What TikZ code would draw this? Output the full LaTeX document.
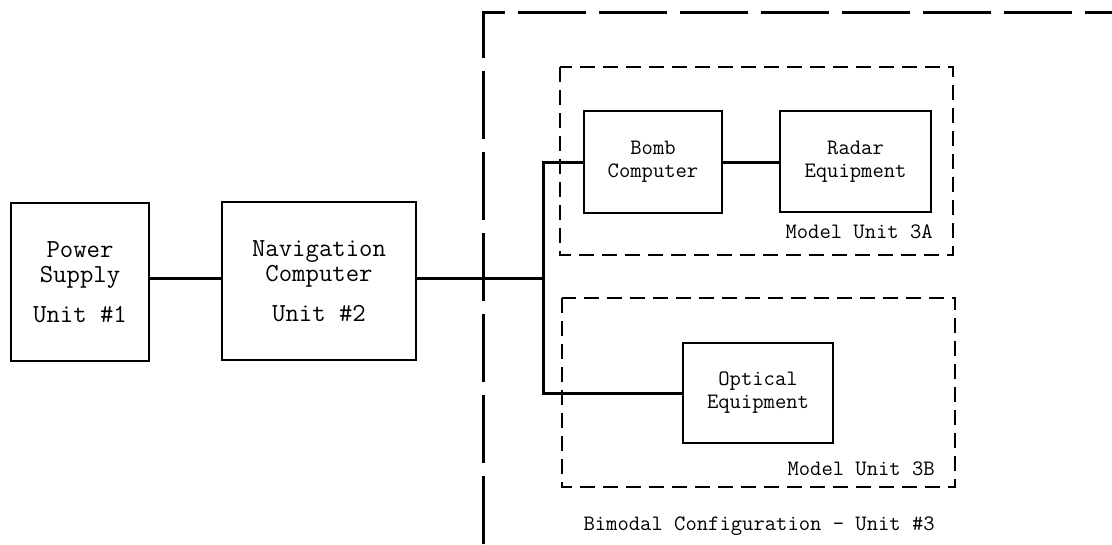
\documentclass[tikz,border=0pt]{standalone}
\usepackage{fontspec}
\begin{document}
\begin{tikzpicture}[x=1pt,y=-1pt,
  bigtext/.style={font=\ttfamily\fontsize{26}{25}\selectfont},
  smalltext/.style={font=\ttfamily\fontsize{22}{23}\selectfont},
  unitbox/.style={draw, line width=2pt, inner sep=0pt, align=center},
  wire/.style={line width=3pt},
  groupbox/.style={draw, line width=2.6pt, dash pattern=on 15pt off 8pt},
  outerline/.style={line width=3pt, dash pattern=on 68pt off 13pt}
]
\useasboundingbox (0,0) rectangle (1112,544);
% outer bimodal frame (open to right and bottom)
\coordinate (oTR) at (1112,12);
\coordinate (oTL) at (483,12);
\coordinate (oBL) at (483,544);
\draw[outerline] (oBL) -- (oTL) -- (oTR);
% group boxes
\draw[groupbox] (560,67) rectangle (953,255);
\draw[groupbox] (562,298) rectangle (955,487);
% unit boxes
\node[unitbox, bigtext, minimum width=138pt, minimum height=158pt] (ps) at (80,282)
  {Power\\ Supply\\[15pt]Unit \#1};
\node[unitbox, bigtext, minimum width=194pt, minimum height=158pt] (nav) at (319,281)
  {Navigation\\Computer\\[15pt]Unit \#2};
\node[unitbox, smalltext, minimum width=138pt, minimum height=102pt] (bomb) at (653,162)
  {Bomb\\Computer};
\node[unitbox, smalltext, minimum width=151pt, minimum height=101pt] (radar) at (855.5,161.5)
  {Radar\\Equipment};
\node[unitbox, smalltext, minimum width=150pt, minimum height=100pt] (opt) at (758,393)
  {Optical\\Equipment};
% labels
\node[smalltext, anchor=base east, inner sep=0pt] (l3a) at (933,238) {Model Unit 3A};
\node[smalltext, anchor=base east, inner sep=0pt] (l3b) at (935,475) {Model Unit 3B};
\node[smalltext, anchor=base east, inner sep=0pt] (l3) at (935,530) {Bimodal Configuration - Unit \#3};
% connectors
\coordinate (j) at (543,278);
\draw[wire] (ps.east |- j) -- (nav.west |- j);
\draw[wire] (nav.east |- j) -- (j);
\draw[wire] (bomb.west) -| (j);
\draw[wire] (opt.west) -| (j);
\draw[wire] (bomb.east) -- (radar.west |- bomb.east);
\end{tikzpicture}
\end{document}
